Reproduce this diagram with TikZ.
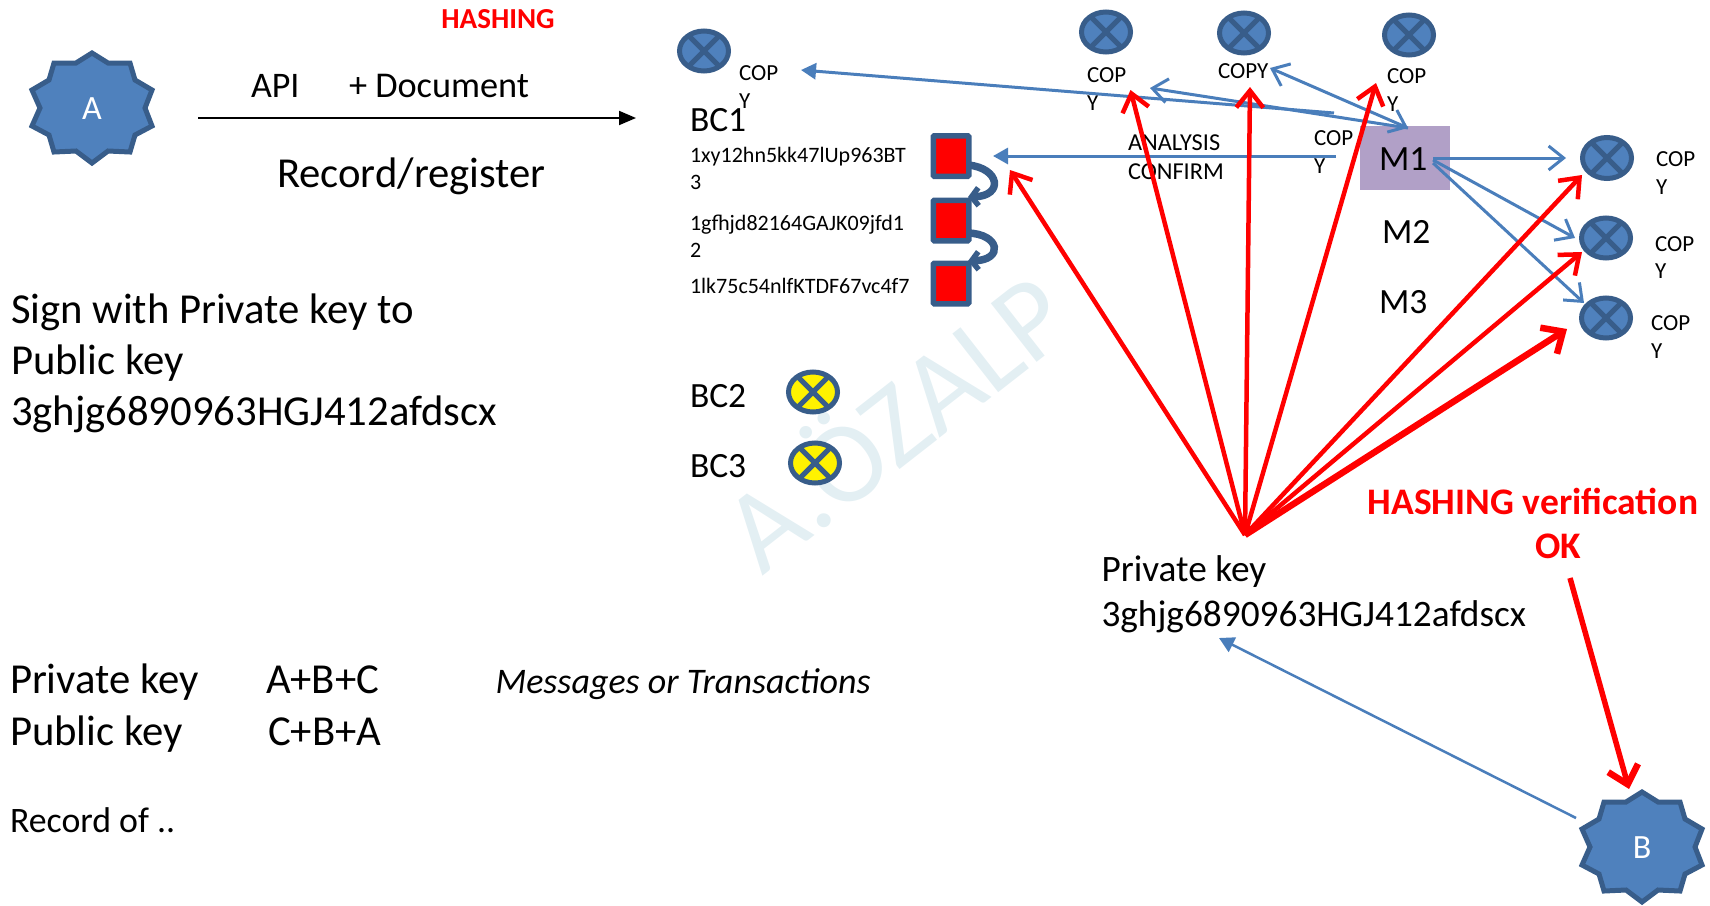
\documentclass[tikz,border=0pt]{standalone}
\usepackage{fontspec}
\setmainfont{Carlito}
\usetikzlibrary{arrows.meta,shapes.geometric}
\definecolor{pptfill}{HTML}{4F81BD}
\definecolor{pptline}{HTML}{385D8A}
\definecolor{pptblue}{HTML}{4A7EBB}
\definecolor{mbox}{HTML}{B1A0C7}
\definecolor{mark}{HTML}{E3EFF3}
\newcommand{\fs}[1]{\fontsize{#1pt}{#1pt}\selectfont}
\tikzset{
  txt/.style={inner sep=0pt,outer sep=0pt,anchor=base west},
  big/.style={txt,font=\fs{42.7}},
  mid/.style={txt,font=\fs{37.3}},
  lab/.style={txt,font=\fs{35.5}},
  hash/.style={txt,font=\fs{22}},
  cop/.style={txt,font=\fs{23}},
  redtxt/.style={inner sep=0pt,anchor=base,text=red,font=\fs{37.5}\bfseries},
  xell/.style={ellipse,draw=pptline,line width=5pt,inner sep=0pt,outer sep=0pt},
  xline/.style={draw=pptline,line width=5pt},
  sq/.style={rectangle,draw=pptline,fill=red,line width=5.5pt,rounded corners=1pt,minimum width=35.5pt,minimum height=40.5pt,inner sep=0pt,outer sep=0pt},
  blueopen/.style={draw=pptblue,line width=3pt,-{Straight Barb[length=15pt,width=24pt,line width=3pt]}},
  bluefill/.style={draw=pptblue,line width=3pt,-{Triangle[length=15pt,width=16pt]}},
  redarrow/.style={draw=red,line width=4.5pt,-{Straight Barb[length=17pt,width=27pt,line width=4.5pt]}},
  redthick/.style={draw=red,line width=6.5pt,-{Straight Barb[length=17pt,width=31pt,line width=6.5pt]}},
  curl/.style={draw=pptline,line width=7.5pt,-{Straight Barb[length=7pt,width=18pt,line width=5.5pt]}},
}
\newcommand{\xnode}[6]{% name x y fill w h
  \node[xell,fill=#4,minimum width=#5pt,minimum height=#6pt] (#1) at (#2,#3) {};
  \draw[xline] (#1.45) -- (#1.225) (#1.135) -- (#1.315);
}
\newcommand{\burst}[4]{% name x y label
  \begin{scope}[shift={(#2,#3)}]
    \draw[draw=pptline,fill=pptfill,line width=5pt,line join=miter]
      (0,-55)--(16,-45)--(38,-45)--(43,-28)--(60,-18)--(53,0)--(60,18)--(43,27)--(38,44)--(16,43)
      --(0,55)--(-16,43)--(-38,44)--(-43,27)--(-60,18)--(-52,0)--(-60,-18)--(-43,-28)--(-38,-45)--(-16,-45)--cycle;
    \node[text=white,font=\fs{34},inner sep=0pt] (#1) at (0,1) {#4};
  \end{scope}
}
\begin{document}
\begin{tikzpicture}[x=1pt,y=-1pt]
\useasboundingbox (0,0) rectangle (1710,905);
% watermark
\node[text=mark,font=\fs{116},rotate=38,inner sep=0pt] (wm) at (892,417) {A.ÖZALP};

% stars
\burst{A}{92}{108}{A}
\burst{B}{1642}{847}{B}

% M box
\node[rectangle,fill=mbox,minimum width=90pt,minimum height=64pt,inner sep=0pt,outer sep=0pt] (mone) at (1405,158) {};

% ellipses
\xnode{c1}{704}{51}{pptfill}{49}{40}
\xnode{c2}{1106}{32}{pptfill}{49}{40}
\xnode{c3}{1244}{33}{pptfill}{49}{40}
\xnode{c4}{1409}{35}{pptfill}{49}{40}
\xnode{r1}{1607}{158}{pptfill}{49}{41}
\xnode{r2}{1606}{238}{pptfill}{49}{40}
\xnode{r3}{1606}{318}{pptfill}{49}{40}
\xnode{y2}{813}{392}{yellow}{49}{40}
\xnode{y3}{815}{463}{yellow}{49}{40}

% squares
\draw[curl] (968,165) .. controls (1000,168) and (1004,196) .. (968,197);
\draw[curl] (968,233) .. controls (1000,234) and (1004,260) .. (968,261);
\node[sq] (s1) at (951,156) {};
\node[sq] (s2) at (951,220.5) {};
\node[sq] (s3) at (951,283.5) {};

% texts
\node[txt,text=red,font=\fs{29}\bfseries,anchor=base] (hh) at (498,28) {HASHING};
\node[txt,font=\fs{36}] (api) at (251,97) {API};
\node[txt,font=\fs{36.3}] (doc) at (349,97) {+ Document};
\node[big] (rec) at (277,187) {Record/register};
\node[big] (s1a) at (11,323) {Sign with Private key to};
\node[big] (s1b) at (11,374) {Public key};
\node[big] (s1c) at (11,425) {3ghjg6890963HGJ412afdscx};
\node[big] (pk) at (10,693) {Private key};
\node[big] (pu) at (10,745) {Public key};
\node[big] (abc) at (266,693) {A+B+C};
\node[big] (cba) at (268,745) {C+B+A};
\node[txt,font=\fs{36}\itshape] (msg) at (495.5,693) {Messages or Transactions};
\node[txt,font=\fs{35.8}] (rof) at (10,832) {Record of ..};
\node[lab] (bc1) at (690,131) {BC1};
\node[lab] (bc2) at (690,407) {BC2};
\node[lab] (bc3) at (690,477) {BC3};
\node[hash] (h1) at (690,162) {1xy12hn5kk47lUp963BT};
\node[hash] (h1b) at (690,189) {3};
\node[hash] (h2) at (690,230) {1gfhjd82164GAJK09jfd1};
\node[hash] (h2b) at (690,257) {2};
\node[hash] (h3) at (690,293) {1lk75c54nlfKTDF67vc4f7};
\node[cop] (t1) at (739,80) {COP};
\node[cop] (t1y) at (739,108) {Y};
\node[cop] (t2) at (1087,82) {COP};
\node[cop] (t2y) at (1087,110) {Y};
\node[cop] (t3) at (1218,78) {COPY};
\node[cop] (t4) at (1387,83) {COP};
\node[cop] (t4y) at (1387,111) {Y};
\node[cop] (tm) at (1314,145) {COP};
\node[cop] (tmy) at (1314,173) {Y};
\node[cop,font=\fs{24.3}] (an) at (1128,150) {ANALYSIS};
\node[cop,font=\fs{24.3}] (co) at (1128,179) {CONFIRM};
\node[cop] (r1a) at (1656,166) {COP};
\node[cop] (r1y) at (1656,194) {Y};
\node[cop] (r2a) at (1655,251) {COP};
\node[cop] (r2y) at (1655,278) {Y};
\node[cop] (r3a) at (1651,330) {COP};
\node[cop] (r3y) at (1651,358) {Y};
\node[lab] (m1) at (1379,170) {M1};
\node[lab] (m2) at (1382,243) {M2};
\node[lab] (m3) at (1379,313) {M3};
\node[mid] (pk1) at (1101.5,581) {Private key};
\node[mid] (pk2) at (1101.5,626) {3ghjg6890963HGJ412afdscx};
\node[redtxt] (hv) at (1533,514) {HASHING verification};
\node[redtxt] (ok) at (1558,558) {OK};

% connector ends
\coordinate (a0) at (198,118); \coordinate (a1) at (636,118);
\coordinate (b1) at (1334,113); \coordinate (b1t) at (801,70);
\coordinate (b2) at (1336,156); \coordinate (b2t) at (993,156);
\coordinate (mtop) at (1408,128); \coordinate (b3t) at (1150,88); \coordinate (b4t) at (1270,68);
\coordinate (mr) at (1433,158); \coordinate (mr2) at (1433,160); \coordinate (mr3) at (1433,163);
\coordinate (b5t) at (1566,158); \coordinate (b6t) at (1575,238); \coordinate (b7t) at (1584,303);
\coordinate (bb) at (1576,818); \coordinate (bbt) at (1219,638);
\coordinate (o) at (1245,535);
\coordinate (ra) at (1010,170); \coordinate (rb) at (1130.5,90); \coordinate (rc) at (1250,87);
\coordinate (rd) at (1376,83); \coordinate (re) at (1582,175); \coordinate (rf) at (1582,252);
\coordinate (rg) at (1567,329);
\coordinate (hs) at (1570,578); \coordinate (ht) at (1629,789);

% connectors
\draw[line width=2pt,-{Triangle[length=17pt,width=14pt]}] (a0) -- (a1);
\draw[bluefill] (b1) -- (b1t);
\draw[bluefill] (b2) -- (b2t);
\draw[blueopen] (mtop) -- (b3t);
\draw[blueopen,{Straight Barb[length=15pt,width=24pt,line width=3pt]}-{Straight Barb[length=15pt,width=24pt,line width=3pt]}] (b4t) -- (mtop);
\draw[blueopen] (mr) -- (b5t);
\draw[blueopen] (mr2) -- (b6t);
\draw[blueopen] (mr3) -- (b7t);
\draw[bluefill,line width=2.5pt] (bb) -- (bbt);
\draw[redarrow] (o) -- (ra);
\draw[redarrow] (o) -- (rb);
\draw[redarrow] (o) -- (rc);
\draw[redarrow] (o) -- (rd);
\draw[redarrow] (o) -- (re);
\draw[redarrow] (o) -- (rf);
\draw[redthick] (o) -- (rg);
\draw[redthick,line width=5.5pt] (hs) -- (ht);
\end{tikzpicture}
\end{document}
